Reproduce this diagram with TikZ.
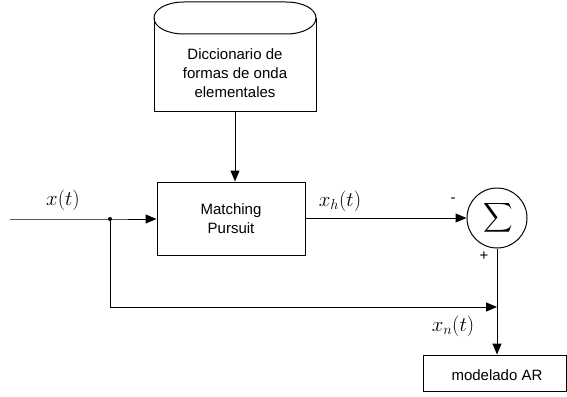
\documentclass[tikz,border=0pt]{standalone}
\usepackage{graphicx}
\usepackage{fontspec}
\setmainfont{Liberation Sans}
\usetikzlibrary{arrows.meta}
\begin{document}
\begin{tikzpicture}[x=1pt,y=-1pt,line width=1pt,
  lbl/.style={font=\fontsize{15}{19}\selectfont,align=center,inner sep=0pt},
  mathlbl/.style={font=\fontsize{21}{25}\selectfont,inner sep=0pt},
  sgn/.style={font=\fontsize{15}{19}\selectfont,inner sep=0pt},
  blockbox/.style={draw,rectangle,inner sep=0pt},
  arr/.style={-{Triangle[length=11pt,width=9pt]}}]
\useasboundingbox (0,0) rectangle (567,396);
% database shape
\draw (154,18) .. controls (154,9) and (167,2) .. (184,2) -- (286,2)
  .. controls (303,2) and (316,9) .. (316,18)
  .. controls (316,27) and (303,34) .. (286,34) -- (184,34)
  .. controls (167,34) and (154,27) .. (154,18) -- cycle;
\draw (154,18) -- (154,111) -- (316,111) -- (316,18);
\node[lbl] (dict) at (235,73) {Diccionario de\\formas de onda\\elementales};
\coordinate (dictb) at (235,111);
% blocks
\node[blockbox,minimum width=148pt,minimum height=73pt] (mp) at (231,218.5) {};
\node[lbl] (mptext) at (231,219) {Matching\\Pursuit};
\node[draw,circle,minimum size=60pt,inner sep=0pt] (sum) at (497,218) {};
\node[inner sep=0pt,font=\fontsize{10}{12}\selectfont] (sig) at (498,218) {\scalebox{2.05}{$\displaystyle\sum$}};
\node[blockbox,minimum width=143pt,minimum height=36pt] (ar) at (494.5,373) {};
\node[lbl] (artext) at (497,375) {modelado AR};
% coordinates
\coordinate (in) at (10,219);
\coordinate (split) at (110,219);
\coordinate (join) at (497,307);
% connectors
\draw[arr] (dictb) -- (dictb |- mp.north);
\draw[arr] (in) -- (split) -- (split -| mp.west);
\fill (split) circle (2pt);
\draw[arr] (split) |- (join);
\draw[arr] (mp.east |- sum.west) -- (sum.west);
\draw[arr] (sum.south) -- (sum.south |- ar.north);
% labels
\node[mathlbl] (lx) at (63,200) {$x(t)$};
\node[mathlbl] (lxh) at (340,201) {$x_h(t)$};
\node[mathlbl] (lxn) at (453,326) {$x_n(t)$};
\node[sgn] (minus) at (453,200) {-};
\node[sgn] (plus) at (484,256) {+};
\end{tikzpicture}
\end{document}
